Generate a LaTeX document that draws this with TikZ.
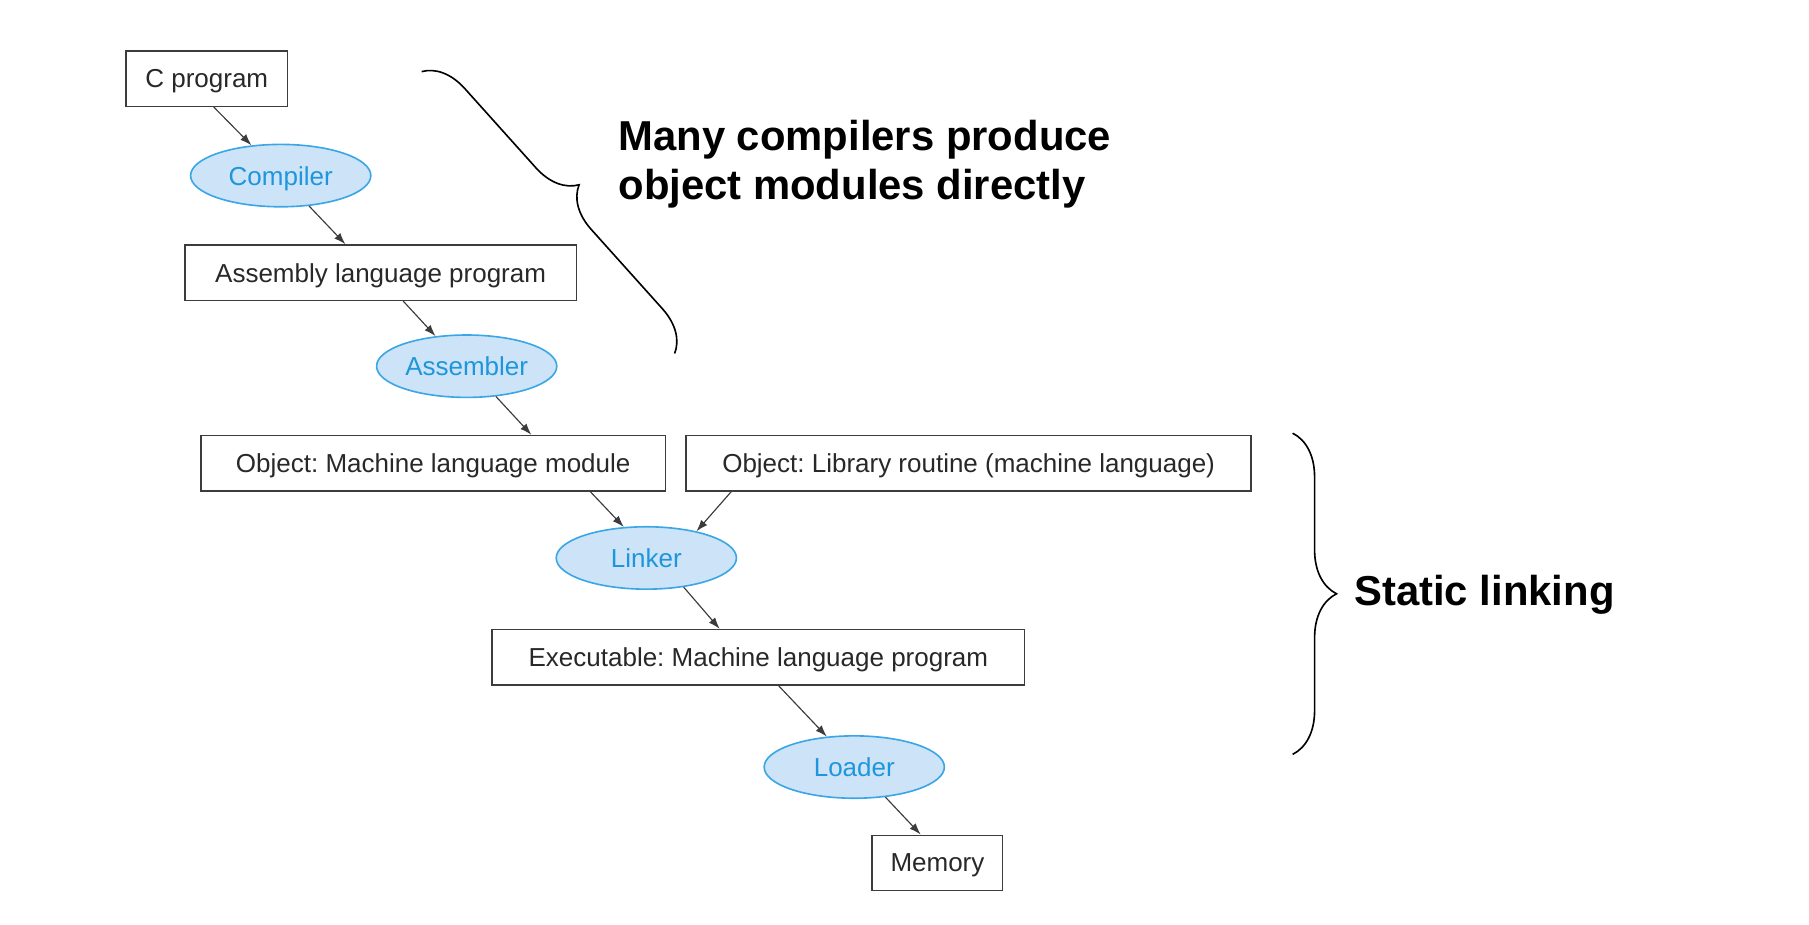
\documentclass[tikz,border=0pt]{standalone}
\usepackage{fontspec}
\setmainfont{Liberation Sans}
\frenchspacing
\usepackage{tikz}
\usetikzlibrary{arrows.meta}
\usetikzlibrary{decorations.pathreplacing}
\usetikzlibrary{positioning}
\usetikzlibrary{shapes.geometric}

\definecolor{boxline}{RGB}{60,60,60}
\definecolor{boxtext}{RGB}{40,40,40}
\definecolor{toolfill}{RGB}{205,227,247}
\definecolor{toolline}{RGB}{58,166,230}
\definecolor{tooltext}{RGB}{30,150,220}

\begin{document}
\begin{tikzpicture}[x=0.5pt,y=0.5pt,>={Latex[length=5pt,width=3.5pt]},
		box/.style={draw=boxline,line width=0.6pt,rectangle,minimum height=24pt,inner sep=0pt,text depth=0pt,text=boxtext,font=\fontsize{11.25}{13.5}\selectfont},
		tool/.style={draw=toolline,fill=toolfill,line width=0.7pt,ellipse,minimum width=78pt,minimum height=27pt,inner sep=0pt,text depth=0pt,text=tooltext,font=\fontsize{11.25}{13.5}\selectfont},
		link/.style={->,line width=0.5pt,draw=boxline},
		bracket/.style={decorate,line width=0.7pt},
		remark/.style={inner sep=0pt,align=left,font=\fontsize{18.1}{21.5}\selectfont\bfseries}]
		\useasboundingbox (0,0) rectangle (1566,-800);

		\node [box,minimum width=70pt] (cprogram) at (179,-68) {C program};
		\node [tool] (compiler) at (243,-152) {Compiler};
		\node [box,minimum width=169.5pt] (assembly) at (329.5,-236) {Assembly language program};
		\node [tool] (assembler) at (404,-317) {Assembler};
		\node [box,minimum width=201pt] (objmodule) at (375,-401) {Object: Machine language module};
		\node [box,minimum width=244.5pt] (library) at (838.5,-401) {Object: Library routine (machine language)};
		\node [tool] (linker) at (559.5,-483) {Linker};
		\node [box,minimum width=230.5pt] (executable) at (656.5,-569) {Executable: Machine language program};
		\node [tool] (loader) at (739.5,-664) {Loader};
		\node [box,minimum width=56.5pt] (memory) at (811.5,-747) {Memory};

		\draw [link] ([xshift=3pt]cprogram.south) -- (compiler.134);
		\draw [link] (compiler.-47) -- ([xshift=-15.25pt]assembly.north);
		\draw [link] ([xshift=9.75pt]assembly.south) -- (assembler.136);
		\draw [link] (assembler.-46) -- ([xshift=42.5pt]objmodule.north);
		\draw [link] ([xshift=68pt]objmodule.south) -- (linker.126);
		\draw [link] ([xshift=-102.75pt]library.south) -- (linker.28);
		\draw [link] (linker.-38) -- ([xshift=-16.75pt]executable.north);
		\draw [link] ([xshift=8.75pt]executable.south) -- (loader.132);
		\draw [link] (loader.-44) -- ([xshift=-7.25pt]memory.north);

		% braces
		\coordinate (directtop) at (365,-62);
		\coordinate (directbottom) at (584,-306);
		\coordinate (statictop) at (1119,-375);
		\coordinate (staticbottom) at (1119,-653);
		\draw [bracket,decoration={brace,amplitude=18pt}] (directtop) -- (directbottom);
		\draw [bracket,decoration={brace,amplitude=19pt}] (statictop) -- (staticbottom);

		\node [remark,anchor=base west] (direct) at (535,-173) {Many compilers produce\\object modules directly};
		\node [remark,anchor=base west] (static) at (1172,-524) {Static linking};
	\end{tikzpicture}
\end{document}
